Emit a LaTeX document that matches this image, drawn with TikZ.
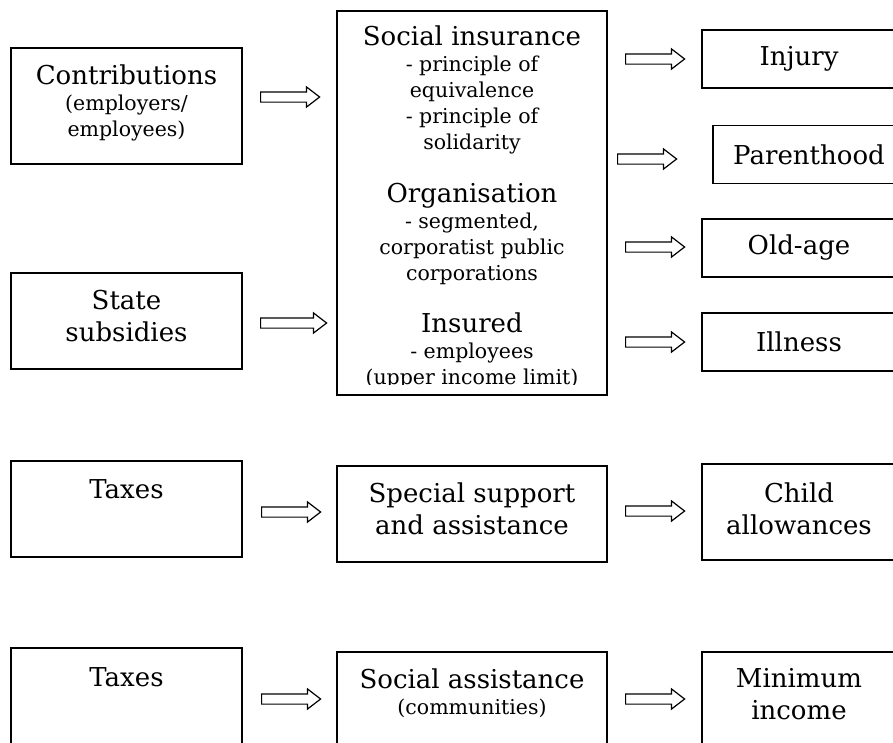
\documentclass[tikz,border=0pt]{standalone}
\usepackage{fontspec}
\setmainfont{DejaVu Serif}
\usetikzlibrary{positioning,shapes.arrows}

\newcommand\bigtxt{\fontsize{26}{32}\selectfont}
\newcommand\smalltxt{\fontsize{20.5}{26}\selectfont}

\begin{document}
\begin{tikzpicture}[
  x=1pt, y=-1pt,
  font=\bigtxt,
  box/.style={draw, line width=1.8pt, align=center, inner sep=0pt},
  source/.style={box, minimum width=231pt, minimum height=96pt},
  scheme/.style={box, minimum width=270pt, minimum height=96pt},
  outcome/.style={box, minimum width=194pt, minimum height=58pt},
  note/.style={font=\smalltxt},
  inside/.style={align=center, inner sep=0pt},
  flow/.style={single arrow, draw, line width=1.2pt, inner xsep=0pt, inner ysep=4.5pt,
    minimum width=19pt, minimum height=59pt, anchor=tail,
    single arrow head extend=5pt, single arrow tip angle=75},
]
  \useasboundingbox (0,0) rectangle (893,742);
  \clip (0,0) rectangle (893,742);

  % financing of social insurance
  \node[source, minimum height=116pt,
    label={[inside, note, yshift=3pt]center:{{\bigtxt Contributions}\\(employers/\\employees)}}]
    (contrib) at (126.5,106) {};
  \node[source, label={[inside, yshift=5pt]center:{State\\subsidies}}] (subsidy) at (126.5,321) {};

  % social insurance box, text runs past the bottom
  \node[box, minimum width=270pt, minimum height=384pt] (social) at (472,203) {};
  \begin{scope}
    \clip (339,13) rectangle (605,384);
    \node[note, inside, anchor=north] (socialtext)
      at ([yshift=-15pt]social.north)
      {{\bigtxt Social insurance}\\- principle of\\equivalence\\- principle of\\solidarity\\[27pt]
       {\bigtxt Organisation}\\- segmented,\\corporatist public\\corporations\\[26pt]
       {\bigtxt Insured}\\- employees\\(upper income limit)};
  \end{scope}

  % risks covered
  \node[outcome] (injury) at (799,59) {Injury};
  \node[outcome, minimum width=192pt] (parent) at (809,154.5) {Parenthood};
  \node[outcome] (oldage) at (799,248) {Old-age};
  \node[outcome] (illness) at (799,342) {Illness};

  % tax financed schemes
  \node[source, label={[inside, anchor=north, yshift=-19pt]north:Taxes}] (taxa) at (126.5,509) {};
  \node[scheme, label={[inside, yshift=5pt]center:{Special support\\and assistance}}] (support) at (472,514) {};
  \node[outcome, minimum height=96pt, label={[inside, yshift=3pt]center:{Child\\allowances}}] (child) at (799,512) {};

  \node[source, label={[inside, anchor=north, yshift=-20pt]north:Taxes}] (taxb) at (126.5,696) {};
  \node[scheme, label={[inside, note, yshift=7pt]center:{{\bigtxt Social assistance}\\(communities)}}] (assist) at (472,700) {};
  \node[outcome, minimum height=96pt, label={[inside, yshift=6pt]center:{Minimum\\income}}] (minimum) at (799,700) {};

  % arrows, placed by their tails
  \node[flow] (f1) at (260,97) {};
  \node[flow, minimum height=66pt] (f2) at (260,323) {};
  \node[flow] (f3) at (625,59) {};
  \node[flow] (f4) at (617,159) {};
  \node[flow] (f5) at (625,247) {};
  \node[flow] (f6) at (625,342) {};
  \node[flow] (f7) at (261,512) {};
  \node[flow] (f8) at (625,511) {};
  \node[flow] (f9) at (261,699) {};
  \node[flow] (f10) at (625,699) {};
\end{tikzpicture}
\end{document}
